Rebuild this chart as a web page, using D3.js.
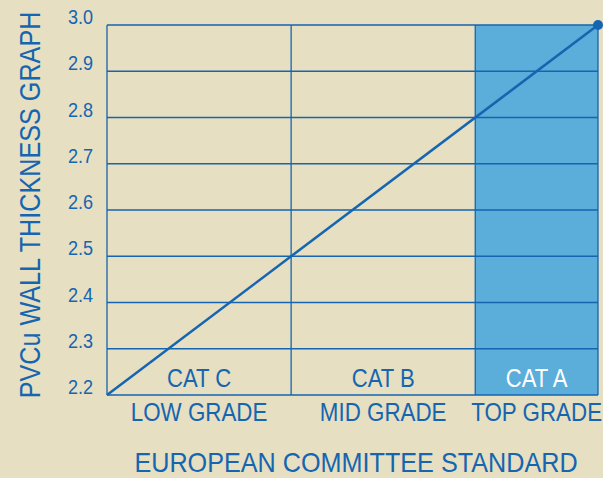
<!DOCTYPE html>
<html>
<head>
<meta charset="utf-8">
<script src="https://cdn.jsdelivr.net/npm/d3@7"></script>
<style>
  html, body { margin: 0; padding: 0; background: #e6dfc2; }
  svg { display: block; }
  text { font-family: "Liberation Sans", Arial, sans-serif; fill: #1565b0; }
</style>
</head>
<body>
<div id="chart"></div>
<script>
// categories, with the thickness range each one covers
const cats = ["CAT C", "CAT B", "CAT A"];
const grades = ["LOW GRADE", "MID GRADE", "TOP GRADE"];
const catFrom = [2.2, 2.5, 2.8];
const catTo = [2.5, 2.8, 3.0];
const highlight = [false, false, true];

// y ticks
const ticks = [2.2, 2.3, 2.4, 2.5, 2.6, 2.7, 2.8, 2.9, 3.0];

// the thickness line
const lineX = [2.2, 3.0];
const lineY = [2.2, 3.0];

const width = 603, height = 478;
const margin = { top: 25, right: 5, bottom: 83, left: 107 };
const narrow = 0.84; // no narrow font installed, squeeze it instead

const svg = d3.select("#chart").append("svg")
    .attr("width", width)
    .attr("height", height);

svg.append("rect").attr("width", width).attr("height", height).attr("fill", "#e6dfc2");

const x = d3.scaleLinear().domain([2.2, 3.0]).range([margin.left, width - margin.right]);
const y = d3.scaleLinear().domain([2.2, 3.0]).range([height - margin.bottom, margin.top]);

const blue = "#1565b0";

// put a squeezed label at (px, py)
function label(px, py, str, size, anchor, sx, rot) {
  const g = svg.append("g")
      .attr("transform", `translate(${px},${py}) rotate(${rot || 0}) scale(${sx || narrow},1)`);
  return g.append("text")
      .attr("text-anchor", anchor)
      .style("font-size", size + "px")
      .text(str);
}

// cat A fill
cats.forEach((c, i) => {
  if (!highlight[i]) return;
  svg.append("rect")
      .attr("x", x(catFrom[i]))
      .attr("y", y(3.0))
      .attr("width", x(catTo[i]) - x(catFrom[i]))
      .attr("height", y(2.2) - y(3.0))
      .attr("fill", "#5badda");
});

// horizontal grid
svg.selectAll(".hgrid")
    .data(ticks)
    .enter().append("line")
    .attr("x1", x(2.2)).attr("x2", x(3.0))
    .attr("y1", d => y(d)).attr("y2", d => y(d))
    .attr("stroke", blue).attr("stroke-width", 1.3);

// vertical lines
const vx = [catFrom[0], ...catTo];
svg.selectAll(".vgrid")
    .data(vx)
    .enter().append("line")
    .attr("x1", d => x(d)).attr("x2", d => x(d))
    .attr("y1", y(2.2)).attr("y2", y(3.0))
    .attr("stroke", blue).attr("stroke-width", 1.3);

// y tick labels
ticks.forEach(t => label(93, y(t) - 1, t.toFixed(1), 21, "end", 0.86));

// category labels inside + grade labels below
cats.forEach((c, i) => {
  const cx = x((catFrom[i] + catTo[i]) / 2);
  label(cx, 387, c, 26, "middle", 0.85)
      .style("fill", highlight[i] ? "#ffffff" : blue);
  label(cx, 421, grades[i], 26, "middle", 0.86);
});

// line
const pts = lineX.map((v, i) => [x(v), y(lineY[i])]);
svg.append("path")
    .attr("d", d3.line()(pts))
    .attr("fill", "none")
    .attr("stroke", blue)
    .attr("stroke-width", 2.5);

svg.append("circle")
    .attr("cx", pts[1][0]).attr("cy", pts[1][1])
    .attr("r", 5)
    .attr("fill", blue);

// titles
label(40, 205, "PVCu WALL THICKNESS GRAPH", 30, "middle", 0.84, -90);
label(356, 472, "EUROPEAN COMMITTEE STANDARD", 28, "middle", 0.9);
</script>
</body>
</html>
